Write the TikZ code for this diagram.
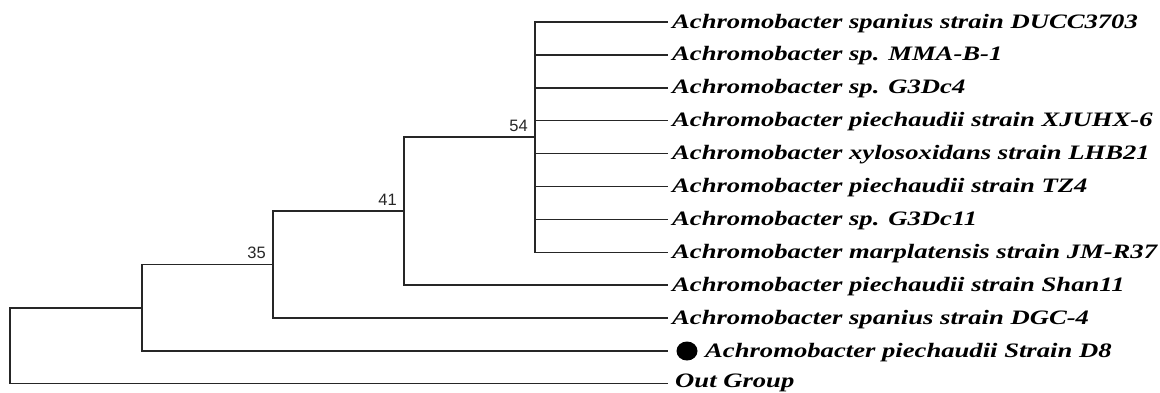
\documentclass[tikz,border=0pt]{standalone}
\usepackage{fontspec}
\setmainfont{Liberation Serif}
\newfontfamily\taxonfont{Liberation Serif}[FakeStretch=1.30]
\newfontfamily\bootfont{Liberation Sans}
\begin{document}
\begin{tikzpicture}[x=1pt,y=-1pt,
  branch/.style={draw=black!85,line width=1.5pt,line cap=rect},
  taxon/.style={anchor=base west,inner sep=0pt,font=\taxonfont\bfseries\itshape\fontsize{20.5}{22}\selectfont},
  boot/.style={anchor=base east,inner sep=0pt,xshift=-7pt,yshift=6pt,font=\bootfont\fontsize{16.5}{18}\selectfont,text=black!85}]
\useasboundingbox (0,0) rectangle (1160,392);

% tip ends of the branches
\foreach \i/\yy in {1/22,2/54.9,3/87.8,4/120.7,5/153.6,6/186.5,7/219.4,8/252.3,9/285.2,10/318.1,11/351,12/383.4}
  \coordinate (t\i) at (667,\yy);

% internal nodes
\coordinate (n54) at (535,137.2);
\coordinate (n41) at (404,211.2);
\coordinate (n35) at (273,264.6);
\coordinate (nA)  at (142,307.8);
\coordinate (root) at (10,345.6);

% branches
\foreach \i in {1,...,8} \draw[branch] (n54) |- (t\i);
\draw[branch] (n41) |- (n54);
\draw[branch] (n41) |- (t9);
\draw[branch] (n35) |- (n41);
\draw[branch] (n35) |- (t10);
\draw[branch] (nA) |- (n35);
\draw[branch] (nA) |- (t11);
\draw[branch] (root) |- (nA);
\draw[branch] (root) |- (t12);

% bootstrap values
\node[boot] (b54) at (n54) {54};
\node[boot] (b41) at (n41) {41};
\node[boot] (b35) at (n35) {35};

% taxa
\node[taxon] (l1) at (672,28) {Achromobacter spanius strain DUCC3703};
\node[taxon] (l2) at (672,60.9) {Achromobacter sp. MMA-B-1};
\node[taxon] (l3) at (672,93.8) {Achromobacter sp. G3Dc4};
\node[taxon] (l4) at (672,126.7) {Achromobacter piechaudii strain XJUHX-6};
\node[taxon] (l5) at (672,159.6) {Achromobacter xylosoxidans strain LHB21};
\node[taxon] (l6) at (672,192.5) {Achromobacter piechaudii strain TZ4};
\node[taxon] (l7) at (672,225.4) {Achromobacter sp. G3Dc11};
\node[taxon] (l8) at (672,258.3) {Achromobacter marplatensis strain JM-R37};
\node[taxon] (l9) at (672,291.2) {Achromobacter piechaudii strain Shan11};
\node[taxon] (l10) at (672,324.1) {Achromobacter spanius strain DGC-4};
\fill[black] (687,351) circle[x radius=10.5pt,y radius=9.5pt];
\node[taxon] (l11) at (705,357) {Achromobacter piechaudii Strain D8};
\node[taxon] (l12) at (675,387) {Out Group};
\end{tikzpicture}
\end{document}
